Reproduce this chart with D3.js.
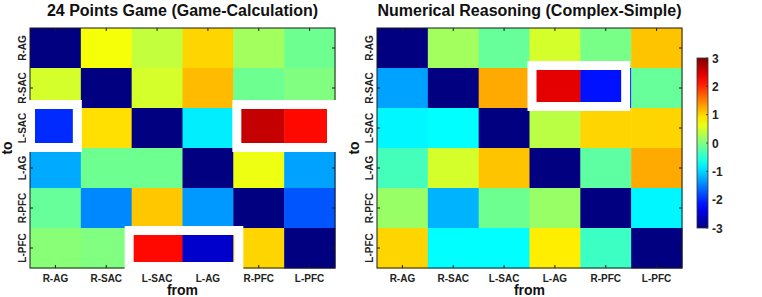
<!DOCTYPE html>
<html><head><meta charset="utf-8">
<script src="https://cdn.jsdelivr.net/npm/d3@7"></script>
<style>
html,body{margin:0;padding:0;background:#fff;}
svg{display:block;font-family:"Liberation Sans",Arial,sans-serif;font-weight:bold;}
</style></head>
<body>
<svg id="chart" width="762" height="297"></svg>
<script>
// ---- data ----
const regions = ["R-AG","R-SAC","L-SAC","L-AG","R-PFC","L-PFC"];
const titles = ["24 Points Game (Game-Calculation)","Numerical Reasoning (Complex-Simple)"];
const xLabel = "from";
const yLabel = "to";
const colorTicks = [-3,-2,-1,0,1,2,3];
// rows = "to", columns = "from"
const gameValues = [
  [-3.0, 0.70, 0.40, 1.00, 0.20, -0.10],
  [0.50, -3.0, 0.50, 1.15, -0.10, 0.00],
  [-2.00, 0.93, -3.0, -0.85, 2.60, 2.20],
  [-1.25, -0.10, -0.10, -3.0, 0.65, -1.30],
  [-0.15, -1.45, 1.08, -1.35, -3.0, -1.75],
  [0.05, 0.00, 2.20, -2.55, 1.00, -3.0]
];
const reasoningValues = [
  [-3.0, 0.20, -0.15, 0.50, -0.05, 1.10],
  [-1.30, -3.0, 1.25, 2.40, -2.15, -0.15],
  [-0.80, -0.75, -3.0, 0.35, 1.00, 1.00],
  [-0.35, 0.50, 1.10, -3.0, -0.20, 1.25],
  [0.15, -1.20, -0.10, 0.15, -3.0, -0.80],
  [1.00, -0.75, -0.75, 0.85, -0.40, -3.0]
];
// highlighted blocks: panel, row ("to"), first and last column ("from")
const highlightPanel = [0, 0, 0, 1];
const highlightRow = ["L-SAC","L-SAC","L-PFC","R-SAC"];
const highlightFrom = ["R-AG","R-PFC","L-SAC","L-AG"];
const highlightTo = ["R-AG","L-PFC","L-AG","R-PFC"];

// ---- layout ----
const panels = [
  {values: gameValues, x0: 30, x1: 335},
  {values: reasoningValues, x0: 377, x1: 682}
];
const plotTop = 28, plotBottom = 268;
// outer padding of each white frame [top, right, bottom, left]
const framePad = [[8,1,4,4],[8,1,4,1],[2,10,3,7],[7,-1,3,2]];
const frameW = 9;

const svg = d3.select("#chart");

function jet(t){
  const c = v => Math.max(0, Math.min(1, v));
  const r = c(1.5 - Math.abs(4*t - 3));
  const g = c(1.5 - Math.abs(4*t - 2));
  const b = c(1.5 - Math.abs(4*t - 1));
  return d3.rgb(r*255, g*255, b*255).toString();
}
const color = d3.scaleSequential(jet).domain([-3, 3]);

const y = d3.scaleBand().domain(regions).range([plotTop, plotBottom]).padding(0);

panels.forEach((p, pi) => {
  const x = d3.scaleBand().domain(regions).range([p.x0, p.x1]).padding(0);
  p.x = x;
  const g = svg.append("g");
  const cells = [];
  p.values.forEach((row, ri) => row.forEach((v, ci) => cells.push({to: regions[ri], from: regions[ci], v})));
  g.selectAll("rect.cell").data(cells).join("rect")
    .attr("class","cell")
    .attr("x", d => x(d.from)).attr("y", d => y(d.to))
    .attr("width", x.bandwidth() + 0.5).attr("height", y.bandwidth() + 0.5)
    .attr("fill", d => color(d.v));

  // box + ticks (MATLAB style, ticks inward)
  const ax = svg.append("g").attr("stroke", "#1a1a1a").attr("stroke-width", 1).attr("fill","none");
  ax.append("rect").attr("x", p.x0).attr("y", plotTop).attr("width", p.x1 - p.x0).attr("height", plotBottom - plotTop);
  regions.forEach(r => {
    const cx = x(r) + x.bandwidth()/2;
    const rcy = y(r) + y.bandwidth()/2;
    ax.append("line").attr("x1", cx).attr("x2", cx).attr("y1", plotBottom).attr("y2", plotBottom - 3);
    ax.append("line").attr("x1", cx).attr("x2", cx).attr("y1", plotTop).attr("y2", plotTop + 3);
    ax.append("line").attr("x1", p.x0).attr("x2", p.x0 + 3).attr("y1", rcy).attr("y2", rcy);
    ax.append("line").attr("x1", p.x1).attr("x2", p.x1 - 3).attr("y1", rcy).attr("y2", rcy);
  });

  // tick labels
  svg.append("g").selectAll("text").data(regions).join("text")
    .attr("x", d => x(d) + x.bandwidth()/2).attr("y", 282)
    .attr("text-anchor","middle").attr("font-size", 10).attr("fill","#222")
    .text(d => d);
  svg.append("g").selectAll("text").data(regions).join("text")
    .attr("transform", d => `translate(${p.x0 - 4},${y(d) + y.bandwidth()/2}) rotate(-90)`)
    .attr("text-anchor","middle").attr("font-size", 10).attr("fill","#222")
    .text(d => d);

  // axis titles
  svg.append("text").attr("x", (p.x0 + p.x1)/2).attr("y", 295)
    .attr("text-anchor","middle").attr("font-size", 14).attr("fill","#111").text(xLabel);
  svg.append("text").attr("transform", `translate(${p.x0 - 18.5},${(plotTop+plotBottom)/2}) rotate(-90)`)
    .attr("text-anchor","middle").attr("font-size", 14).attr("fill","#111").text(yLabel);
  svg.append("text").attr("x", (p.x0 + p.x1)/2).attr("y", 16)
    .attr("text-anchor","middle").attr("font-size", 16).attr("fill","#111").text(titles[pi]);
});

// white highlight frames
highlightPanel.forEach((pi, i) => {
  const x = panels[pi].x;
  const pad = framePad[i];
  const ox0 = x(highlightFrom[i]) - pad[3];
  const ox1 = x(highlightTo[i]) + x.bandwidth() + pad[1];
  const oy0 = y(highlightRow[i]) - pad[0];
  const oy1 = y(highlightRow[i]) + y.bandwidth() + pad[2];
  svg.append("rect")
    .attr("x", ox0 + frameW/2).attr("y", oy0 + frameW/2)
    .attr("width", ox1 - ox0 - frameW).attr("height", oy1 - oy0 - frameW)
    .attr("fill","none").attr("stroke","#fff").attr("stroke-width", frameW);
});

// colorbar
const cbX = 697, cbW = 11, cbTop = 58, cbBottom = 228;
const cbScale = d3.scaleLinear().domain([-3, 3]).range([cbBottom, cbTop]);
const defs = svg.append("defs");
const grad = defs.append("linearGradient").attr("id","jetgrad")
  .attr("x1","0").attr("y1","1").attr("x2","0").attr("y2","0");
d3.range(0, 1.0001, 0.05).forEach(t => {
  grad.append("stop").attr("offset", t).attr("stop-color", color(-3 + 6*t));
});
svg.append("rect").attr("x", cbX).attr("y", cbTop).attr("width", cbW).attr("height", cbBottom - cbTop)
  .attr("fill","url(#jetgrad)").attr("stroke","#333").attr("stroke-width",0.8);
const cbt = svg.append("g");
colorTicks.forEach(v => {
  cbt.append("line").attr("x1", cbX + cbW).attr("x2", cbX + cbW - 2).attr("y1", cbScale(v)).attr("y2", cbScale(v))
    .attr("stroke","#333").attr("stroke-width",0.8);
  cbt.append("text").attr("x", cbX + cbW + 4).attr("y", cbScale(v) + 4.5)
    .attr("font-size", 12).attr("fill","#222").text(v);
});
</script>
</body></html>
